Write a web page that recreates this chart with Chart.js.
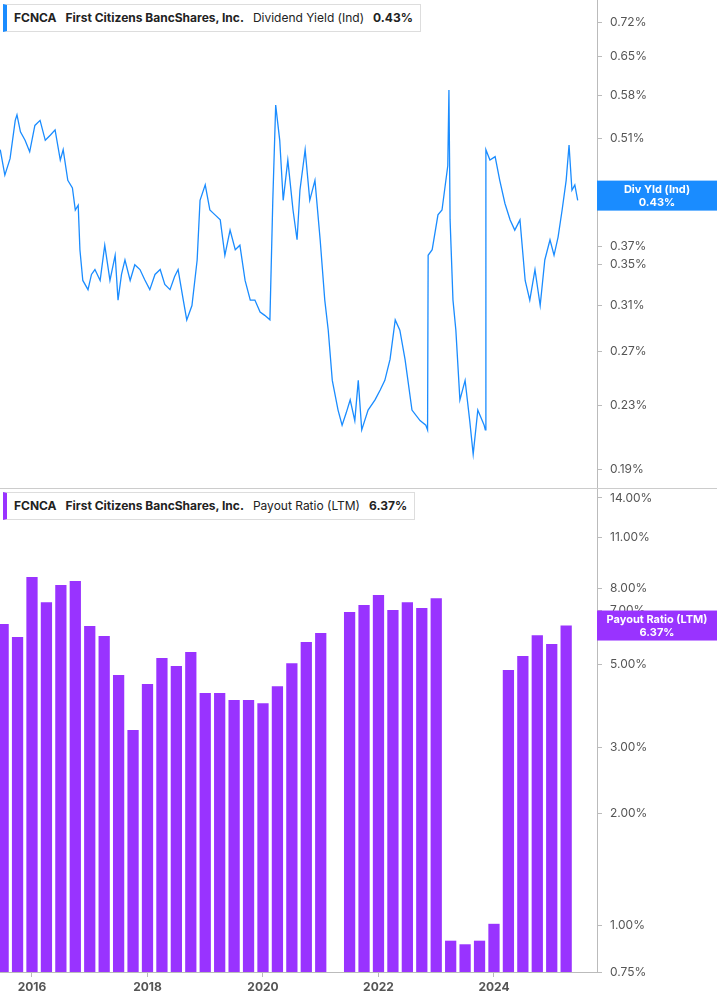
<!DOCTYPE html>
<html><head><meta charset="utf-8">
<script src="https://cdn.jsdelivr.net/npm/chart.js@4"></script>
<style>
body{margin:0;background:#fff;font-family:Inter,"Noto Sans",sans-serif;}
#wrap{position:relative;width:717px;height:1005px;}
#c1{position:absolute;left:0;top:0;}
#c2{position:absolute;left:0;top:489px;}
#sep{position:absolute;left:0;top:488px;width:717px;height:1px;background:#ccc;}
.leg{position:absolute;left:3px;height:26px;background:#fff;border:1px solid #ddd;border-left:4px solid;font-size:12px;line-height:26px;padding:0 7px;white-space:nowrap;color:#222}
.leg b{font-weight:700;margin-right:9px}
.leg span{margin-right:9px}
</style></head><body>
<div id="wrap">
<canvas id="c1" width="717" height="488"></canvas>
<div id="sep"></div>
<canvas id="c2" width="717" height="516"></canvas>
<div class="leg" style="top:4px;border-left-color:#1a8cff"><b>FCNCA</b><b>First Citizens BancShares, Inc.</b><span>Dividend Yield (Ind)</span><b style="margin:0">0.43%</b></div>
<div class="leg" style="top:492px;border-left-color:#9933ff"><b>FCNCA</b><b>First Citizens BancShares, Inc.</b><span>Payout Ratio (LTM)</span><b style="margin:0">6.37%</b></div>
</div>
<script>
const yieldDates=[2015.45,2015.53,2015.62,2015.71,2015.74,2015.80,2015.88,2015.96,2016.05,2016.14,2016.23,2016.32,2016.40,2016.49,2016.54,2016.62,2016.70,2016.75,2016.80,2016.83,2016.88,2016.97,2017.03,2017.09,2017.18,2017.26,2017.35,2017.44,2017.49,2017.55,2017.61,2017.70,2017.78,2017.87,2017.95,2018.04,2018.13,2018.22,2018.30,2018.39,2018.47,2018.53,2018.62,2018.68,2018.77,2018.86,2018.91,2019.00,2019.08,2019.17,2019.26,2019.34,2019.43,2019.52,2019.60,2019.69,2019.78,2019.86,2019.95,2020.03,2020.12,2020.17,2020.22,2020.29,2020.35,2020.43,2020.52,2020.59,2020.64,2020.73,2020.81,2020.90,2020.99,2021.07,2021.13,2021.20,2021.30,2021.37,2021.44,2021.51,2021.59,2021.65,2021.71,2021.82,2021.94,2022.03,2022.11,2022.20,2022.29,2022.37,2022.46,2022.58,2022.72,2022.82,2022.85,2022.86,2022.93,2023.03,2023.10,2023.20,2023.22,2023.24,2023.29,2023.34,2023.41,2023.50,2023.58,2023.64,2023.72,2023.83,2023.85,2023.86,2023.93,2024.02,2024.10,2024.19,2024.28,2024.36,2024.45,2024.54,2024.62,2024.71,2024.80,2024.88,2024.97,2025.04,2025.11,2025.18,2025.25,2025.30,2025.35,2025.40,2025.45];
const yieldValues=[0.493,0.457,0.480,0.538,0.547,0.520,0.507,0.490,0.530,0.538,0.507,0.515,0.523,0.478,0.493,0.450,0.440,0.412,0.418,0.366,0.334,0.325,0.340,0.345,0.334,0.371,0.334,0.360,0.315,0.340,0.355,0.334,0.350,0.345,0.335,0.325,0.340,0.345,0.330,0.325,0.338,0.345,0.315,0.297,0.310,0.355,0.424,0.444,0.412,0.406,0.400,0.360,0.388,0.366,0.371,0.334,0.315,0.315,0.304,0.301,0.297,0.424,0.563,0.507,0.424,0.478,0.412,0.377,0.437,0.493,0.424,0.450,0.377,0.315,0.288,0.248,0.227,0.217,0.225,0.234,0.220,0.248,0.214,0.227,0.234,0.241,0.248,0.264,0.297,0.288,0.264,0.227,0.220,0.217,0.214,0.360,0.366,0.406,0.412,0.470,0.589,0.400,0.315,0.288,0.234,0.248,0.220,0.199,0.227,0.217,0.214,0.493,0.478,0.483,0.450,0.420,0.400,0.388,0.400,0.334,0.315,0.345,0.310,0.355,0.377,0.360,0.380,0.412,0.450,0.500,0.437,0.444,0.424];
const payoutDates=[2015.5,2015.75,2016.0,2016.25,2016.5,2016.75,2017.0,2017.25,2017.5,2017.75,2018.0,2018.25,2018.5,2018.75,2019.0,2019.25,2019.5,2019.75,2020.0,2020.25,2020.5,2020.75,2021.0,2021.25,2021.5,2021.75,2022.0,2022.25,2022.5,2022.75,2023.0,2023.25,2023.5,2023.75,2024.0,2024.25,2024.5,2024.75,2025.0,2025.25];
const payoutValues=[6.43,5.93,8.59,7.36,8.18,8.38,6.35,5.97,4.69,3.34,4.44,5.21,4.96,5.41,4.20,4.20,4.02,4.02,3.94,4.38,5.05,5.75,6.08,null,6.92,7.23,7.69,7.01,7.36,7.10,7.54,0.91,0.89,0.91,1.01,4.84,5.28,6.00,5.68,6.37];
const yieldTicks=[0.19,0.23,0.27,0.31,0.35,0.37,0.43,0.51,0.58,0.65,0.72];
const payoutTicks=[0.75,1,2,3,5,7,8,11,14];
const yearTicks=[2016,2018,2020,2022,2024];
const X0=2015.446,X1=2025.784;
const FONT='Inter, "Noto Sans", sans-serif';

function yAxis(min,max,ticks,fmt){return{type:'logarithmic',position:'right',min,max,
 afterBuildTicks:a=>{a.ticks=ticks.map(v=>({value:v}))},
 afterFit:a=>{a.width=120;a.paddingTop=0;a.paddingBottom=0},
 border:{display:true,color:'#bbb'},
 grid:{drawOnChartArea:false,tickLength:5,color:'#bbb'},
 ticks:{autoSkip:false,padding:8,color:'#555',font:{family:FONT,size:12},callback:fmt}}}

function badge(lines,val,color,lbl){return{id:'b'+lbl,afterDraw(c){const ctx=c.ctx,y=c.scales.y.getPixelForValue(val),x=c.chartArea.right;
 ctx.save();ctx.fillStyle=color;ctx.fillRect(x,y-15,120,30);ctx.fillStyle='#fff';ctx.font='bold 11px '+FONT;ctx.textAlign='center';ctx.textBaseline='middle';
 ctx.fillText(lines[0],x+60,y-6);ctx.fillText(lines[1],x+60,y+7);ctx.restore();}}}

new Chart(document.getElementById('c1'),{type:'line',
 data:{datasets:[{data:yieldDates.map((d,i)=>({x:d,y:yieldValues[i]})),borderColor:'#1a8cff',borderWidth:1.3,pointRadius:0,tension:0}]},
 options:{responsive:false,animation:false,layout:{padding:0},plugins:{legend:{display:false},tooltip:{enabled:false}},
  scales:{x:{type:'linear',min:X0,max:X1,display:false},
   y:yAxis(0.180,0.77,yieldTicks,v=>v.toFixed(2)+'%')}},
 plugins:[badge(['Div Yld (Ind)','0.43%'],0.43,'#1a8cff','1')]});

new Chart(document.getElementById('c2'),{type:'bar',
 data:{datasets:[{data:payoutDates.map((d,i)=>({x:d,y:payoutValues[i]})),backgroundColor:'#9933ff',barPercentage:0.78,categoryPercentage:1}]},
 options:{responsive:false,animation:false,layout:{padding:0},plugins:{legend:{display:false},tooltip:{enabled:false}},
  scales:{x:{type:'linear',offset:false,min:X0,max:X1,afterBuildTicks:a=>{a.ticks=yearTicks.map(v=>({value:v}))},
    afterFit:a=>{a.height=33;a.paddingLeft=0;a.paddingRight=0},border:{display:true,color:'#bbb'},grid:{drawOnChartArea:false,offset:false,tickLength:5,color:'#bbb'},
    ticks:{autoSkip:false,maxRotation:0,color:'#555',font:{family:FONT,size:12,weight:'bold'},callback:v=>String(v)}},
   y:yAxis(0.75,14.8,payoutTicks,v=>v.toFixed(2)+'%')}},
 plugins:[badge(['Payout Ratio (LTM)','6.37%'],6.37,'#9933ff','2')]});
</script></body></html>
